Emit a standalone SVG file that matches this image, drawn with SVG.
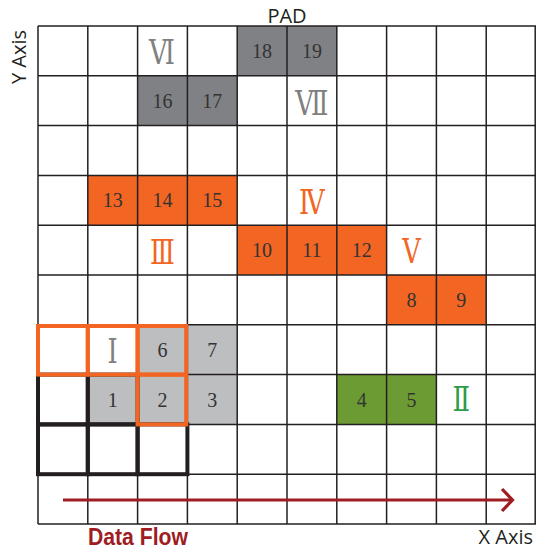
<svg xmlns="http://www.w3.org/2000/svg" width="536" height="550" viewBox="0 0 536 550">
<style>
.grid line{stroke:#231f20;stroke-width:1.5}
.num{font-family:"Liberation Serif","DejaVu Serif",serif;font-size:20px;fill:#333;text-anchor:middle}
.rom{font-family:"DejaVu Serif","Liberation Serif",serif;font-size:33px;text-anchor:middle}
.lbl{font-family:"Open Sans","Noto Sans",sans-serif;font-size:20px;fill:#231f20}
.dg{fill:#808184}
.lg{fill:#bcbec0}
.or{fill:#f26522}
.gr{fill:#6b9b32}
.ofr{fill:none;stroke:#f26522;stroke-width:4}
.bfr{fill:none;stroke:#231f20;stroke-width:4}
</style>
<rect width="536" height="550" fill="#fff"/>
<g id="fills">
<rect class="dg" x="237.2" y="26" width="49.8" height="49.8"/>
<rect class="dg" x="287" y="26" width="49.8" height="49.8"/>
<rect class="dg" x="137.6" y="75.8" width="49.8" height="49.8"/>
<rect class="dg" x="187.4" y="75.8" width="49.8" height="49.8"/>
<rect class="or" x="87.8" y="175.4" width="49.8" height="49.8"/>
<rect class="or" x="137.6" y="175.4" width="49.8" height="49.8"/>
<rect class="or" x="187.4" y="175.4" width="49.8" height="49.8"/>
<rect class="or" x="237.2" y="225.2" width="49.8" height="49.8"/>
<rect class="or" x="287" y="225.2" width="49.8" height="49.8"/>
<rect class="or" x="336.8" y="225.2" width="49.8" height="49.8"/>
<rect class="or" x="386.6" y="275" width="49.8" height="49.8"/>
<rect class="or" x="436.4" y="275" width="49.8" height="49.8"/>
<rect class="lg" x="137.6" y="324.8" width="49.8" height="49.8"/>
<rect class="lg" x="187.4" y="324.8" width="49.8" height="49.8"/>
<rect class="lg" x="87.8" y="374.6" width="49.8" height="49.8"/>
<rect class="lg" x="137.6" y="374.6" width="49.8" height="49.8"/>
<rect class="lg" x="187.4" y="374.6" width="49.8" height="49.8"/>
<rect class="gr" x="336.8" y="374.6" width="49.8" height="49.8"/>
<rect class="gr" x="386.6" y="374.6" width="49.8" height="49.8"/>
</g>
<g class="grid" id="grid">
<line x1="38" y1="26" x2="38" y2="524"/>
<line x1="87.8" y1="26" x2="87.8" y2="524"/>
<line x1="137.6" y1="26" x2="137.6" y2="524"/>
<line x1="187.4" y1="26" x2="187.4" y2="524"/>
<line x1="237.2" y1="26" x2="237.2" y2="524"/>
<line x1="287" y1="26" x2="287" y2="524"/>
<line x1="336.8" y1="26" x2="336.8" y2="524"/>
<line x1="386.6" y1="26" x2="386.6" y2="524"/>
<line x1="436.4" y1="26" x2="436.4" y2="524"/>
<line x1="486.2" y1="26" x2="486.2" y2="524"/>
<line x1="535.2" y1="26" x2="535.2" y2="524"/>
<line x1="38" y1="26" x2="536" y2="26"/>
<line x1="38" y1="75.8" x2="536" y2="75.8"/>
<line x1="38" y1="125.6" x2="536" y2="125.6"/>
<line x1="38" y1="175.4" x2="536" y2="175.4"/>
<line x1="38" y1="225.2" x2="536" y2="225.2"/>
<line x1="38" y1="275" x2="536" y2="275"/>
<line x1="38" y1="324.8" x2="536" y2="324.8"/>
<line x1="38" y1="374.6" x2="536" y2="374.6"/>
<line x1="38" y1="424.4" x2="536" y2="424.4"/>
<line x1="38" y1="474.2" x2="536" y2="474.2"/>
<line x1="38" y1="524" x2="536" y2="524"/>
</g>
<g id="black-frame">
<rect class="bfr" x="38" y="374.6" width="49.8" height="49.8"/>
<rect class="bfr" x="87.8" y="374.6" width="49.8" height="49.8"/>
<rect class="bfr" x="38" y="424.4" width="49.8" height="49.8"/>
<rect class="bfr" x="87.8" y="424.4" width="49.8" height="49.8"/>
<rect class="bfr" x="137.6" y="424.4" width="49.8" height="49.8"/>
</g>
<g id="orange-frame">
<rect class="ofr" x="38" y="326" width="49.8" height="48.6"/>
<rect class="ofr" x="87.8" y="326" width="49.8" height="48.6"/>
<rect class="ofr" x="137.6" y="326" width="48.6" height="48.6"/>
<rect class="ofr" x="137.6" y="374.6" width="48.6" height="49.8"/>
</g>
<g id="n18"><text class="num" x="262.1" y="58">18</text></g>
<g id="n19"><text class="num" x="311.9" y="58">19</text></g>
<g id="n16"><text class="num" x="162.5" y="107.7">16</text></g>
<g id="n17"><text class="num" x="212.3" y="107.7">17</text></g>
<g id="n13"><text class="num" x="112.7" y="207.3">13</text></g>
<g id="n14"><text class="num" x="162.5" y="207.3">14</text></g>
<g id="n15"><text class="num" x="212.3" y="207.3">15</text></g>
<g id="n10"><text class="num" x="262.1" y="257.1">10</text></g>
<g id="n11"><text class="num" x="311.9" y="257.1">11</text></g>
<g id="n12"><text class="num" x="361.7" y="257.1">12</text></g>
<g id="n8"><text class="num" x="411.5" y="306.9">8</text></g>
<g id="n9"><text class="num" x="461.3" y="306.9">9</text></g>
<g id="n6"><text class="num" x="162.5" y="356.7">6</text></g>
<g id="n7"><text class="num" x="212.3" y="356.7">7</text></g>
<g id="n1"><text class="num" x="112.7" y="406.5">1</text></g>
<g id="n2"><text class="num" x="162.5" y="406.5">2</text></g>
<g id="n3"><text class="num" x="212.3" y="406.5">3</text></g>
<g id="n4"><text class="num" x="361.7" y="406.5">4</text></g>
<g id="n5"><text class="num" x="411.5" y="406.5">5</text></g>
<g id="r6"><text class="rom" transform="translate(162,63.7) scale(0.78,1)" fill="#808080">Ⅵ</text></g>
<g id="r7"><text class="rom" transform="translate(311.9,115) scale(0.78,1)" fill="#808080">Ⅶ</text></g>
<g id="r4"><text class="rom" transform="translate(311.9,214) scale(0.78,1)" fill="#f26522">Ⅳ</text></g>
<g id="r3"><text class="rom" transform="translate(162.5,264) scale(0.78,1)" fill="#f26522">Ⅲ</text></g>
<g id="r5"><text class="rom" transform="translate(411.5,263) scale(0.78,1)" fill="#f26522">Ⅴ</text></g>
<g id="r1"><text class="rom" transform="translate(112.7,363) scale(0.78,1)" fill="#808080">Ⅰ</text></g>
<g id="r2"><text class="rom" transform="translate(461.3,411) scale(0.78,1)" fill="#2e9b48">Ⅱ</text></g>
<g id="pad"><text class="lbl" x="287" y="23" text-anchor="middle" font-size="21">PAD</text></g>
<g id="yaxis"><text class="lbl" transform="translate(26,57) rotate(-90)" text-anchor="middle">Y Axis</text></g>
<g id="xaxis"><text class="lbl" x="533" y="544" text-anchor="end" font-size="19">X Axis</text></g>
<g id="connectors">
<line x1="63" y1="500" x2="512" y2="500" stroke="#9e1c22" stroke-width="3.2"/>
<polyline points="502,489 512.5,500 502,511" fill="none" stroke="#9e1c22" stroke-width="3.2"/>
</g>
<g id="dataflow"><text x="88" y="545" font-family="Liberation Sans, Arial, sans-serif" font-weight="bold" font-size="23" fill="#9e1c22" textLength="100" lengthAdjust="spacingAndGlyphs">Data Flow</text></g>
</svg>
